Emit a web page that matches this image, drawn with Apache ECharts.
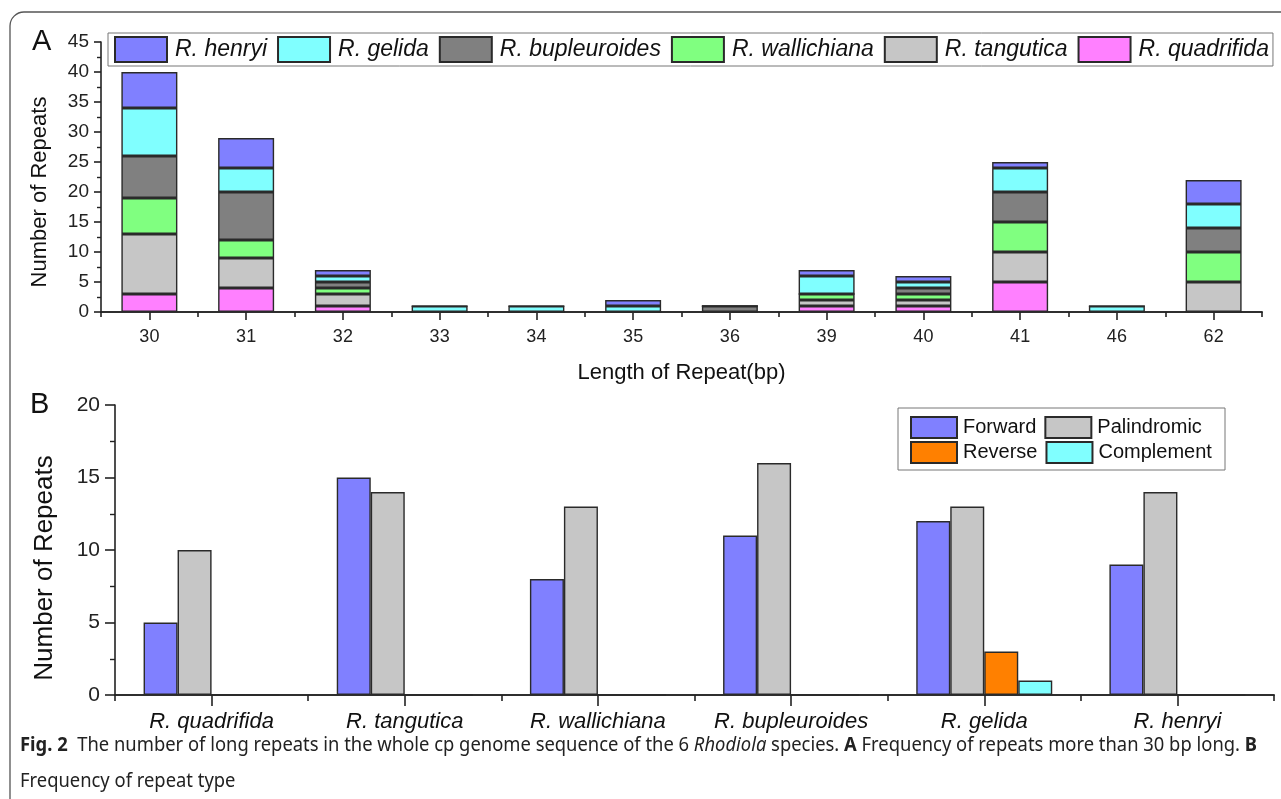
<!DOCTYPE html>
<html><head><meta charset="utf-8">
<script src="https://cdn.jsdelivr.net/npm/echarts@6/dist/echarts.min.js"></script>
<style>html,body{margin:0;padding:0;background:#fff}#c{width:1281px;height:799px}</style>
</head><body><div id="c"></div>
<script>
// ---- Panel A data ----
const lengthCategories = ['30','31','32','33','34','35','36','39','40','41','46','62'];
const quadrifidaA   = [3, 4, 1, 0, 0, 0, 0, 1, 1, 5, 0, 0];
const tanguticaA    = [10,5, 2, 0, 0, 0, 0, 1, 1, 5, 0, 5];
const wallichianaA  = [6, 3, 1, 0, 0, 0, 0, 1, 1, 5, 0, 5];
const bupleuroidesA = [7, 8, 1, 0, 0, 0, 1, 0, 1, 5, 0, 4];
const gelidaA       = [8, 4, 1, 1, 1, 1, 0, 3, 1, 4, 1, 4];
const henryiA       = [6, 5, 1, 0, 0, 1, 0, 1, 1, 1, 0, 4];
const speciesNames  = ['R. henryi','R. gelida','R. bupleuroides','R. wallichiana','R. tangutica','R. quadrifida'];
// ---- Panel B data ----
const speciesCategories = ['R. quadrifida','R. tangutica','R. wallichiana','R. bupleuroides','R. gelida','R. henryi'];
const forward     = [5, 15, 8, 11, 12, 9];
const palindromic = [10, 14, 13, 16, 13, 14];
const reverse     = [0, 0, 0, 0, 3, 0];
const complement  = [0, 0, 0, 0, 1, 0];

const FONT = '"Liberation Sans", Arial, sans-serif';
const CAP = '"Noto Sans", "Open Sans", sans-serif';
const col = {
  'R. henryi':'#8080FF','R. gelida':'#80FFFF','R. bupleuroides':'#808080',
  'R. wallichiana':'#80FF80','R. tangutica':'#C6C6C6','R. quadrifida':'#FF80FF',
  'Forward':'#8080FF','Palindromic':'#C6C6C6','Reverse':'#FF8000','Complement':'#80FFFF'
};
const axisLine = {show:true, lineStyle:{color:'#222', width:1.6}};

function stackSeries(name, data){
  return {name, type:'bar', stack:'A', xAxisIndex:0, yAxisIndex:0, data, barWidth:56,
    itemStyle:{color:col[name], borderColor:'#2a2a2a', borderWidth:1.4}};
}
function groupSeries(name, data){
  return {name, type:'bar', xAxisIndex:2, yAxisIndex:1, data, barWidth:34, barGap:'0%',
    itemStyle:{color:col[name], borderColor:'#2a2a2a', borderWidth:1.4}};
}

// caption measurement for condensing
const ctx = document.createElement('canvas').getContext('2d');
function w(font, t){ ctx.font = font; return ctx.measureText(t).width; }
const capSize = 20;
const seg1 = [
  ['b','Fig. 2'],['n','  The number of long repeats in the whole cp genome sequence of the 6 '],
  ['i','Rhodiola'],['n',' species. '],['b','A'],['n',' Frequency of repeats more than 30 bp long. '],['b','B']
];
const fontOf = {b:'bold '+capSize+'px '+CAP, n:capSize+'px '+CAP, i:'italic '+capSize+'px '+CAP};
let line1W = 0; seg1.forEach(s=>{ line1W += w(fontOf[s[0]], s[1]); });
const capScale = 1237 / line1W;
const line1Text = seg1.map(s=>'{'+s[0]+'|'+s[1]+'}').join('');
const richCap = {
  b:{fontFamily:CAP, fontWeight:'bold', fontSize:capSize, fill:'#222'},
  n:{fontFamily:CAP, fontSize:capSize, fill:'#222'},
  i:{fontFamily:CAP, fontStyle:'italic', fontSize:capSize, fill:'#222'}
};

const chart = echarts.init(document.getElementById('c'), null, {renderer:'canvas'});
chart.setOption({
  animation:false,
  backgroundColor:'#fff',
  grid:[
    {left:101, top:42, width:1161, height:270},
    {left:115, top:405, width:1159, height:290}
  ],
  legend:[
    {data:speciesNames, left:108, top:33, orient:'horizontal', itemWidth:52, itemHeight:25, itemGap:10,
     padding:[3,4,3,6], borderColor:'#777', borderWidth:1, selectedMode:false, icon:'rect',
     textStyle:{fontFamily:FONT, fontStyle:'italic', fontSize:23, color:'#111', padding:[0,3,0,3]}},
    {data:['Forward','Palindromic'], left:905, top:413, itemWidth:46, itemHeight:21, itemGap:8,
     padding:[3,5,3,5], selectedMode:false, icon:'rect',
     textStyle:{fontFamily:FONT, fontSize:20, color:'#111', padding:[0,0,0,1]}},
    {data:['Reverse','Complement'], left:905, top:438, itemWidth:46, itemHeight:21, itemGap:8,
     padding:[3,5,3,5], selectedMode:false, icon:'rect',
     textStyle:{fontFamily:FONT, fontSize:20, color:'#111', padding:[0,0,0,1]}}
  ],
  xAxis:[
    {type:'category', gridIndex:0, position:'bottom', data:lengthCategories, axisLine,
     axisTick:{show:true, alignWithLabel:true, length:8, lineStyle:{color:'#222', width:1.6}},
     axisLabel:{fontFamily:FONT, fontSize:18, color:'#222', margin:16, interval:0},
     name:'Length of Repeat(bp)', nameLocation:'middle', nameGap:50,
     nameTextStyle:{fontFamily:FONT, fontSize:22, color:'#111'}},
    {type:'category', gridIndex:0, position:'bottom', data:lengthCategories, axisLine,
     axisTick:{show:true, alignWithLabel:false, interval:0, length:5, lineStyle:{color:'#222', width:1.6}},
     axisLabel:{show:false}},
    {type:'category', gridIndex:1, position:'bottom', data:speciesCategories, axisLine,
     axisTick:{show:true, alignWithLabel:true, interval:0, length:11, lineStyle:{color:'#222', width:1.6}},
     axisLabel:{fontFamily:FONT, fontStyle:'italic', fontSize:22, color:'#111', margin:16, interval:0}},
    {type:'category', gridIndex:1, position:'bottom', data:speciesCategories, axisLine,
     axisTick:{show:true, alignWithLabel:false, interval:0, length:6, lineStyle:{color:'#222', width:1.6}},
     axisLabel:{show:false}}
  ],
  yAxis:[
    {type:'value', gridIndex:0, min:0, max:45, interval:5, axisLine,
     axisTick:{show:true, length:7, lineStyle:{color:'#222', width:1.6}},
     minorTick:{show:true, splitNumber:2, length:4, lineStyle:{color:'#222', width:1.4}},
     splitLine:{show:false},
     axisLabel:{fontFamily:FONT, fontSize:19, color:'#222', margin:12},
     name:'Number of Repeats', nameLocation:'middle', nameGap:50,
     nameTextStyle:{fontFamily:FONT, fontSize:22, color:'#111', padding:[0,30,0,0]}},
    {type:'value', gridIndex:1, min:0, max:20, interval:5, axisLine,
     axisTick:{show:true, length:10, lineStyle:{color:'#222', width:1.6}},
     minorTick:{show:true, splitNumber:2, length:5, lineStyle:{color:'#222', width:1.4}},
     splitLine:{show:false},
     axisLabel:{fontFamily:FONT, fontSize:21, color:'#222', margin:15},
     name:'Number of Repeats', nameLocation:'middle', nameGap:57,
     nameTextStyle:{fontFamily:FONT, fontSize:26, color:'#111', padding:[0,36,0,0]}}
  ],
  series:[
    stackSeries('R. quadrifida', quadrifidaA),
    stackSeries('R. tangutica', tanguticaA),
    stackSeries('R. wallichiana', wallichianaA),
    stackSeries('R. bupleuroides', bupleuroidesA),
    stackSeries('R. gelida', gelidaA),
    stackSeries('R. henryi', henryiA),
    groupSeries('Forward', forward),
    groupSeries('Palindromic', palindromic),
    groupSeries('Reverse', reverse),
    groupSeries('Complement', complement)
  ],
  graphic:[
    {type:'rect', z:-1, shape:{x:10, y:12, width:1320, height:830, r:14},
     style:{fill:null, stroke:'#555', lineWidth:1.3}},
    {type:'rect', shape:{x:898, y:408, width:327, height:62},
     style:{fill:null, stroke:'#777', lineWidth:1}},
    {type:'text', left:32, top:27, style:{text:'A', font:'29px '+FONT, fill:'#111'}},
    {type:'text', left:30, top:390, style:{text:'B', font:'29px '+FONT, fill:'#111'}},
    {type:'text', x:20, y:745, scaleX:capScale, originX:0,
     style:{text:line1Text, rich:richCap, verticalAlign:'middle', align:'left'}},
    {type:'text', x:20, y:781, scaleX:capScale, originX:0,
     style:{text:'{n|Frequency of repeat type}', rich:richCap, verticalAlign:'middle', align:'left'}}
  ]
});
</script></body></html>
